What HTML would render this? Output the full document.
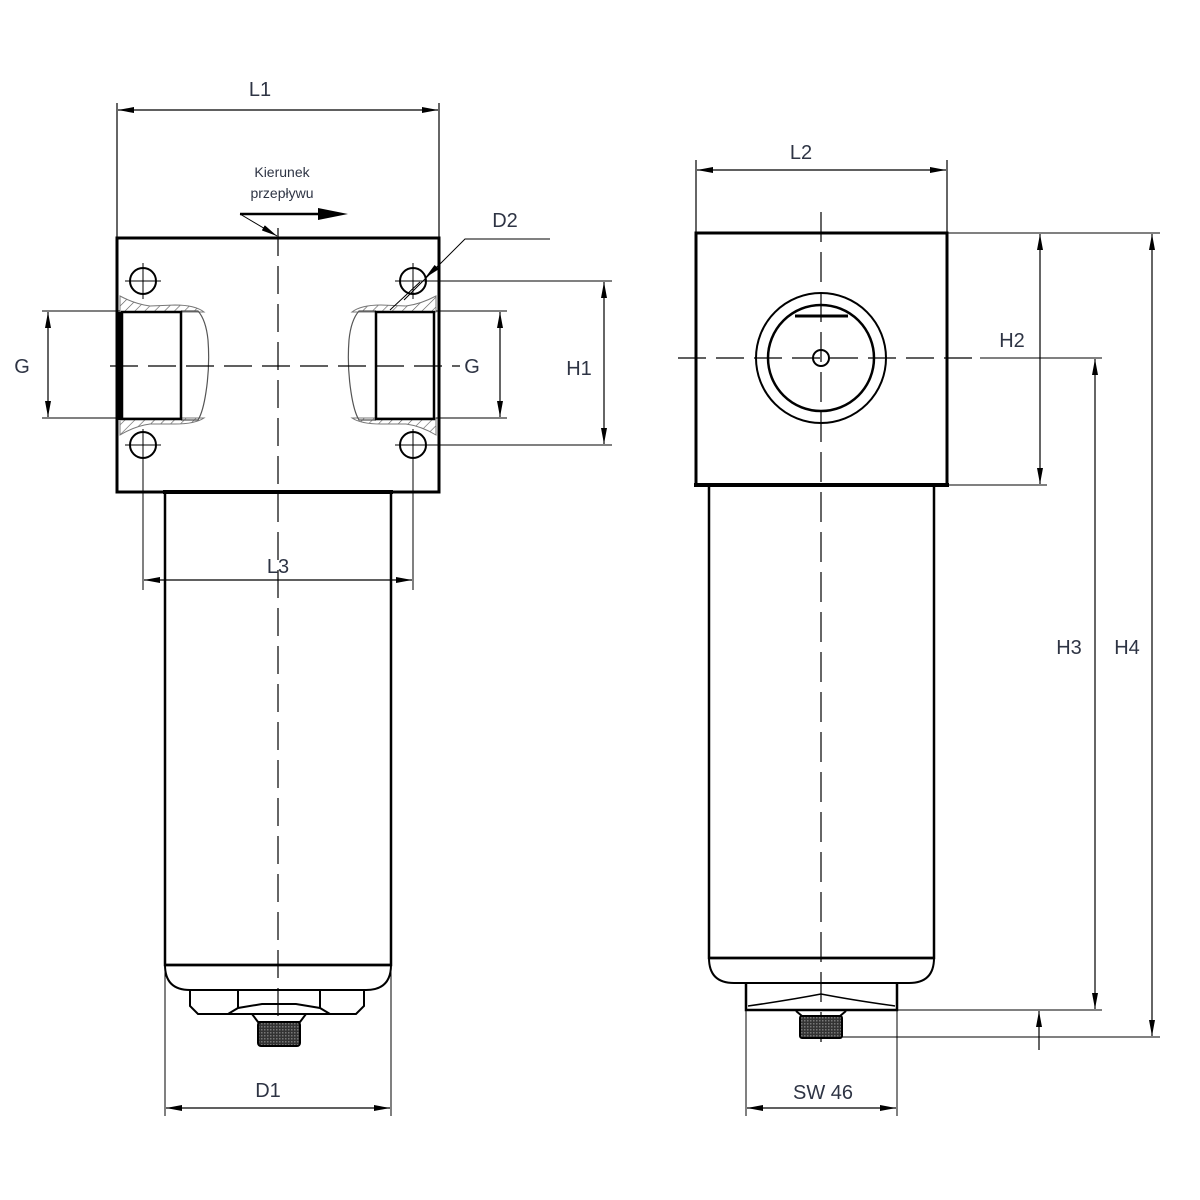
<!DOCTYPE html>
<html><head><meta charset="utf-8"><style>
html,body{margin:0;padding:0;background:#fff;}
svg{display:block}
text{font-family:"Liberation Sans",sans-serif;fill:#2e3444;}
</style></head><body>
<svg width="1200" height="1200" viewBox="0 0 1200 1200" xmlns="http://www.w3.org/2000/svg">
<defs>
<marker id="a" viewBox="0 0 16 6" refX="16" refY="3" markerWidth="16" markerHeight="6" markerUnits="userSpaceOnUse" orient="auto-start-reverse"><path d="M0,0 L16,3 L0,6 z" fill="#000"/></marker>
<pattern id="h" width="7" height="7" patternUnits="userSpaceOnUse" patternTransform="rotate(45)"><line x1="0" y1="0" x2="0" y2="7" stroke="#555" stroke-width="1.2"/></pattern>
<pattern id="k" width="3" height="3" patternUnits="userSpaceOnUse"><rect width="3" height="3" fill="#333"/><rect width="1.5" height="1.5" fill="#777"/></pattern>
</defs>
<g fill="none" stroke="#000">
<!-- LEFT VIEW -->
<!-- L1 -->
<line x1="117" y1="103" x2="117" y2="238" stroke-width="1.2"/>
<line x1="439" y1="103" x2="439" y2="238" stroke-width="1.2"/>
<line x1="118" y1="110" x2="438" y2="110" stroke-width="1.3" marker-start="url(#a)" marker-end="url(#a)"/>
<!-- block -->
<rect x="117" y="238" width="322" height="254" stroke-width="3"/>
<!-- hatching top/bottom of ports -->
<path d="M120,296 Q135,304 150,306 L175,305 Q195,305 204,312 L120,312 Z" fill="url(#h)" stroke="#777" stroke-width="1"/>
<path d="M120,435 Q135,426 150,424 L175,424 Q195,424 204,418 L120,418 Z" fill="url(#h)" stroke="#777" stroke-width="1"/>
<path d="M436,296 Q421,304 406,306 L381,305 Q361,305 352,312 L436,312 Z" fill="url(#h)" stroke="#777" stroke-width="1"/>
<path d="M436,435 Q421,426 406,424 L381,424 Q361,424 352,418 L436,418 Z" fill="url(#h)" stroke="#777" stroke-width="1"/>
<!-- port bulges -->
<path d="M181,311 L198,311 Q206,320 208,340 Q210,366 206,392 Q203,412 198,420 L181,420" stroke="#555" stroke-width="1.2"/>
<path d="M376,311 L359,311 Q351,320 349,340 Q347,366 351,392 Q354,412 359,420 L376,420" stroke="#555" stroke-width="1.2"/>
<!-- ports -->
<rect x="122" y="312" width="59" height="107" stroke-width="2.5"/>
<rect x="376" y="312" width="58" height="107" stroke-width="2.5"/>
<line x1="119" y1="312" x2="119" y2="420" stroke-width="4"/>
<!-- holes -->
<g stroke-width="2">
<circle cx="143" cy="281" r="13"/><circle cx="413" cy="281" r="13"/>
<circle cx="143" cy="445" r="13"/><circle cx="413" cy="445" r="13"/>
</g>
<g stroke-width="1">
<line x1="125" y1="281" x2="161" y2="281"/><line x1="143" y1="263" x2="143" y2="299"/>
<line x1="395" y1="281" x2="612" y2="281"/><line x1="413" y1="263" x2="413" y2="299"/>
<line x1="125" y1="445" x2="161" y2="445"/><line x1="143" y1="429" x2="143" y2="590"/>
<line x1="395" y1="445" x2="612" y2="445"/><line x1="413" y1="429" x2="413" y2="590"/>
</g>
<!-- centerlines -->
<line x1="278" y1="228" x2="278" y2="1040" stroke-width="1.2" stroke-dasharray="28,10"/>
<line x1="110" y1="366" x2="460" y2="366" stroke-width="1.2" stroke-dasharray="28,10"/>
<!-- G left -->
<line x1="42" y1="311" x2="120" y2="311" stroke-width="1"/>
<line x1="42" y1="418" x2="120" y2="418" stroke-width="1"/>
<line x1="48" y1="312" x2="48" y2="417" stroke-width="1.2" marker-start="url(#a)" marker-end="url(#a)"/>
<!-- G right -->
<line x1="436" y1="311" x2="507" y2="311" stroke-width="1"/>
<line x1="436" y1="418" x2="507" y2="418" stroke-width="1"/>
<line x1="500" y1="312" x2="500" y2="417" stroke-width="1.2" marker-start="url(#a)" marker-end="url(#a)"/>
<!-- H1 -->
<line x1="604" y1="282" x2="604" y2="444" stroke-width="1.2" marker-start="url(#a)" marker-end="url(#a)"/>
<!-- D2 leader -->
<polyline points="550,239 465,239 404,300" stroke-width="1"/>
<line x1="440" y1="264" x2="425" y2="278" stroke-width="1" marker-end="url(#a)"/>
<line x1="420" y1="282" x2="390" y2="310" stroke-width="1"/>
<!-- flow arrow -->
<line x1="240" y1="214" x2="330" y2="214" stroke-width="2.5"/>
<path d="M318,208 L348,214 L318,220 Z" fill="#000" stroke="none"/>
<line x1="240" y1="214" x2="277" y2="236" stroke-width="1" marker-end="url(#a)"/>
<!-- body -->
<path d="M165,492 L165,965 L391,965 L391,492" stroke-width="2.5"/>
<line x1="163" y1="492" x2="393" y2="492" stroke-width="4"/>
<line x1="165" y1="965" x2="391" y2="965" stroke-width="2.5"/>
<path d="M165,965 Q165,990 190,990 L366,990 Q391,990 391,965" stroke-width="2"/>
<!-- L3 -->
<line x1="144" y1="580" x2="412" y2="580" stroke-width="1.2" marker-start="url(#a)" marker-end="url(#a)"/>
<!-- nut -->
<path d="M190,990 L190,1006 L198,1014 L228,1014 L238,1008 L262,1004 L296,1004 L320,1008 L330,1014 L356,1014 L364,1006 L364,990" stroke-width="2"/>
<line x1="238" y1="990" x2="238" y2="1008" stroke-width="2"/>
<line x1="320" y1="990" x2="320" y2="1008" stroke-width="2"/>
<line x1="198" y1="1014" x2="356" y2="1014" stroke-width="2"/>
<path d="M252,1014 L258,1022 L300,1022 L306,1014" stroke-width="2"/>
<rect x="258" y="1022" width="42" height="24" rx="3" fill="url(#k)" stroke-width="2"/>
<!-- D1 -->
<line x1="165" y1="965" x2="165" y2="1116" stroke-width="1"/>
<line x1="391" y1="965" x2="391" y2="1116" stroke-width="1"/>
<line x1="166" y1="1108" x2="390" y2="1108" stroke-width="1.2" marker-start="url(#a)" marker-end="url(#a)"/>

<!-- RIGHT VIEW -->
<line x1="696" y1="160" x2="696" y2="233" stroke-width="1.2"/>
<line x1="947" y1="160" x2="947" y2="233" stroke-width="1.2"/>
<line x1="697" y1="170" x2="946" y2="170" stroke-width="1.3" marker-start="url(#a)" marker-end="url(#a)"/>
<rect x="696" y="233" width="251" height="252" stroke-width="3"/>
<line x1="694" y1="485" x2="949" y2="485" stroke-width="4"/>
<circle cx="821" cy="358" r="65" stroke-width="2"/>
<circle cx="821" cy="358" r="53" stroke-width="2.5"/>
<circle cx="821" cy="358" r="8" stroke-width="2"/>
<line x1="795" y1="316" x2="848" y2="316" stroke-width="3"/>
<line x1="821" y1="212" x2="821" y2="1050" stroke-width="1.2" stroke-dasharray="30,10"/>
<line x1="678" y1="358" x2="980" y2="358" stroke-width="1.2" stroke-dasharray="28,10"/>
<line x1="980" y1="358" x2="1102" y2="358" stroke-width="1"/>
<!-- body -->
<path d="M709,485 L709,958 L934,958 L934,485" stroke-width="2.5"/>
<line x1="709" y1="958" x2="934" y2="958" stroke-width="2.5"/>
<path d="M709,958 Q709,983 734,983 L909,983 Q934,983 934,958" stroke-width="2"/>
<path d="M746,983 L746,1010 L897,1010 L897,983" stroke-width="2.5"/>
<path d="M748,1006 Q790,1000 821,994 Q852,1000 895,1006" stroke-width="1.5"/>
<path d="M796,1011 L802,1016 L840,1016 L846,1011" stroke-width="2"/>
<rect x="800" y="1016" width="42" height="22" rx="2" fill="url(#k)" stroke-width="2"/>
<!-- H2 -->
<line x1="947" y1="233" x2="1160" y2="233" stroke-width="1"/>
<line x1="947" y1="485" x2="1047" y2="485" stroke-width="1"/>
<line x1="1040" y1="234" x2="1040" y2="484" stroke-width="1.2" marker-start="url(#a)" marker-end="url(#a)"/>
<!-- H3 -->
<line x1="897" y1="1010" x2="1102" y2="1010" stroke-width="1"/>
<line x1="1095" y1="359" x2="1095" y2="1009" stroke-width="1.2" marker-start="url(#a)" marker-end="url(#a)"/>
<!-- H4 -->
<line x1="842" y1="1037" x2="1160" y2="1037" stroke-width="1"/>
<line x1="1152" y1="234" x2="1152" y2="1036" stroke-width="1.2" marker-start="url(#a)" marker-end="url(#a)"/>
<!-- small arrow -->
<line x1="1039" y1="1050" x2="1039" y2="1011" stroke-width="1.2" marker-end="url(#a)"/>
<!-- SW46 -->
<line x1="746" y1="1010" x2="746" y2="1116" stroke-width="1"/>
<line x1="897" y1="1010" x2="897" y2="1116" stroke-width="1"/>
<line x1="747" y1="1108" x2="896" y2="1108" stroke-width="1.2" marker-start="url(#a)" marker-end="url(#a)"/>
</g>
<g font-size="20">
<text x="260" y="96" text-anchor="middle">L1</text>
<text x="22" y="373" text-anchor="middle">G</text>
<text x="472" y="373" text-anchor="middle">G</text>
<text x="579" y="375" text-anchor="middle">H1</text>
<text x="505" y="227" text-anchor="middle">D2</text>
<text x="278" y="573" text-anchor="middle">L3</text>
<text x="268" y="1097" text-anchor="middle">D1</text>
<text x="801" y="159" text-anchor="middle">L2</text>
<text x="1012" y="347" text-anchor="middle">H2</text>
<text x="1069" y="654" text-anchor="middle">H3</text>
<text x="1127" y="654" text-anchor="middle">H4</text>
<text x="823" y="1099" text-anchor="middle">SW 46</text>
</g>
<g font-size="14">
<text x="282" y="177" text-anchor="middle">Kierunek</text>
<text x="282" y="198" text-anchor="middle">przepływu</text>
</g>
</svg>
</body></html>
